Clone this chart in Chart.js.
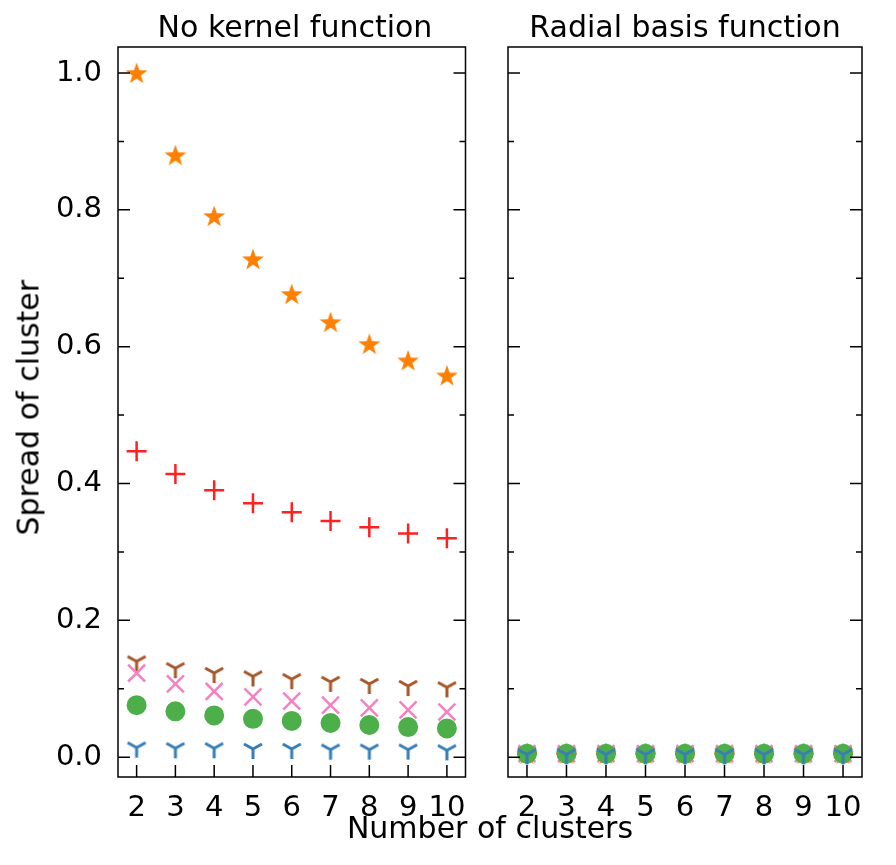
<!DOCTYPE html>
<html><head><script src="https://cdn.jsdelivr.net/npm/chart.js@4"></script>
<style>body{margin:0;width:896px;height:865px;position:relative;background:#fff;font-family:"DejaVu Sans"}
canvas{position:absolute;top:0}
.t{position:absolute;font-size:30px;color:#000;white-space:nowrap}</style></head><body>
<canvas id="c1" style="left:0" width="480" height="865"></canvas>
<canvas id="c2" style="left:480px" width="416" height="865"></canvas>
<div class="t" style="left:118px;width:354px;text-align:center;top:9px">No kernel function</div>
<div class="t" style="left:508px;width:354px;text-align:center;top:9px">Radial basis function</div>
<div class="t" style="left:0;width:896px;text-align:center;top:810px;padding-left:84px;box-sizing:border-box">Number of clusters</div>
<div class="t" style="left:-92px;top:398px;transform:rotate(-90deg);width:240px;text-align:center;">Spread of cluster</div>
<script>
const categories=[2,3,4,5,6,7,8,9,10];
const yTicks=[0,0.2,0.4,0.6,0.8,1.0];
const noKernel={
 blue:[0.014,0.013,0.013,0.012,0.012,0.011,0.011,0.011,0.010],
 green:[0.076,0.067,0.061,0.056,0.053,0.050,0.047,0.044,0.042],
 pink:[0.123,0.107,0.096,0.088,0.082,0.076,0.072,0.069,0.066],
 brown:[0.140,0.130,0.123,0.118,0.114,0.110,0.107,0.104,0.102],
 orange:[1.000,0.880,0.791,0.728,0.677,0.636,0.604,0.580,0.558],
 red:[0.447,0.414,0.390,0.371,0.358,0.345,0.336,0.327,0.320]};
const rbf={
 blue:[0.004,0.004,0.004,0.004,0.004,0.004,0.004,0.004,0.004],
 green:[0.005,0.005,0.005,0.005,0.005,0.005,0.005,0.005,0.005],
 pink:[0.005,0.005,0.005,0.005,0.005,0.005,0.005,0.005,0.005],
 brown:[0.006,0.006,0.006,0.006,0.006,0.006,0.006,0.006,0.006],
 orange:[0.005,0.005,0.005,0.005,0.005,0.005,0.005,0.005,0.005],
 red:[0.005,0.005,0.005,0.005,0.005,0.005,0.005,0.005,0.005]};
function tri(color){const c=document.createElement('canvas');c.width=24;c.height=24;const g=c.getContext('2d');
 g.strokeStyle=color;g.lineWidth=3;g.beginPath();g.moveTo(12,12);g.lineTo(12,22);g.moveTo(12,12);g.lineTo(3,7);g.moveTo(12,12);g.lineTo(21,7);g.stroke();return c;}
function star(color){const c=document.createElement('canvas');c.width=24;c.height=24;const g=c.getContext('2d');
 g.fillStyle=color;g.beginPath();for(let i=0;i<10;i++){const r=i%2?4.5:11.5,a=-Math.PI/2+i*Math.PI/5;g.lineTo(12+r*Math.cos(a),13+r*Math.sin(a));}g.closePath();g.fill();return c;}
const styles={
 blue:{c:'#377eb8',p:tri('#377eb8'),r:10,w:2.5},
 green:{c:'#4daf4a',p:'circle',r:9,w:2},
 pink:{c:'#f781bf',p:'crossRot',r:12,w:2.5},
 brown:{c:'#a65628',p:tri('#a65628'),r:10,w:2.5},
 orange:{c:'#ff7f00',p:star('#ff7f00'),r:11,w:2},
 red:{c:'#ff2020',p:'cross',r:10,w:2.5}};
const ticksPlugin={id:'inTicks',afterDraw(ch){const g=ch.ctx,a=ch.chartArea,y=ch.scales.y,x=ch.scales.x;
 g.save();g.strokeStyle='#000';g.lineWidth=1.5;g.strokeRect(a.left,a.top,a.right-a.left,a.bottom-a.top);g.beginPath();
 for(let v=0;v<=1.001;v+=0.1){const p=y.getPixelForValue(v);const L=Math.round(v*10)%2===0?12:6;
  g.moveTo(a.left,p);g.lineTo(a.left+L,p);g.moveTo(a.right,p);g.lineTo(a.right-L,p);}
 categories.forEach(v=>{const p=x.getPixelForValue(v);g.moveTo(p,a.bottom);g.lineTo(p,a.bottom-12);});
 g.stroke();g.restore();}};
function make(id,data,showY,padR){
 const ds=Object.keys(styles).map(k=>({data:categories.map((c,i)=>({x:c,y:data[k][i]})),
  pointStyle:styles[k].p,pointRadius:styles[k].r,borderColor:styles[k].c,backgroundColor:styles[k].c,borderWidth:styles[k].w,showLine:false}));
 new Chart(document.getElementById(id),{type:'scatter',data:{datasets:ds},plugins:[ticksPlugin],
  options:{responsive:false,animation:false,events:[],layout:{padding:{top:47,right:padR,left:0,bottom:0}},
   plugins:{legend:{display:false},tooltip:{enabled:false}},
   scales:{x:{min:1.52,max:10.48,afterBuildTicks:s=>{s.ticks=categories.map(v=>({value:v}))},
     afterFit:s=>{s.height=88;s.paddingRight=0;s.paddingLeft=0},grid:{display:false},border:{display:false},
     ticks:{font:{size:29,family:'DejaVu Sans'},color:'#000',padding:6,maxRotation:0}},
    y:{min:-0.029,max:1.038,afterBuildTicks:s=>{s.ticks=yTicks.map(v=>({value:v}))},
     afterFit:s=>{s.width=showY?118:28;s.paddingTop=0;s.paddingBottom=0},grid:{display:false},border:{display:false},
     ticks:{display:showY,font:{size:29,family:'DejaVu Sans'},color:'#000',padding:8,callback:v=>v.toFixed(1)}}}}});
}
make('c1',noKernel,true,8);
make('c2',rbf,false,34);
</script></body></html>
